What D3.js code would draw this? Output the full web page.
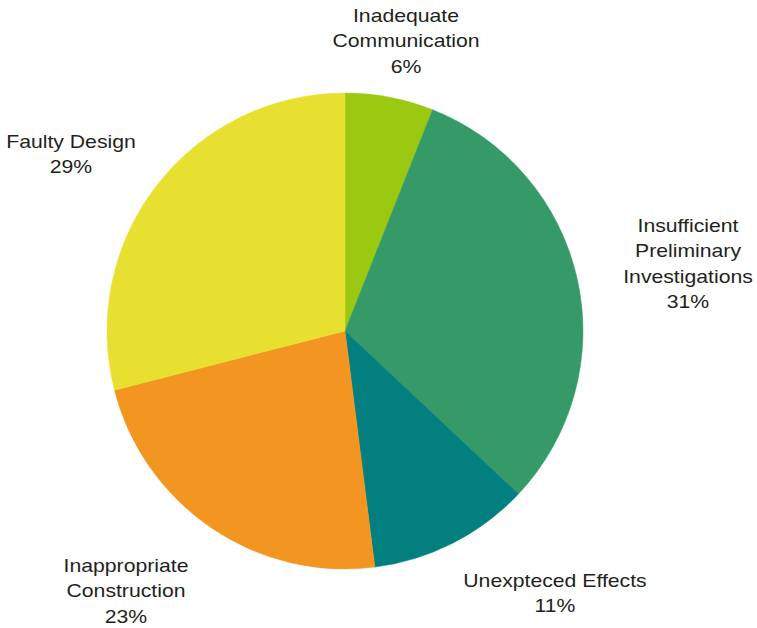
<!DOCTYPE html>
<html>
<head>
<meta charset="utf-8">
<script src="https://cdn.jsdelivr.net/npm/d3@7"></script>
<style>
  html, body { margin: 0; padding: 0; background: #fff; }
  svg { display: block; }
  text { font-family: "Liberation Sans", Arial, sans-serif; fill: #231f20; }
</style>
</head>
<body>
<svg id="chart" width="757" height="628"></svg>
<script>
// Causes, in clockwise order starting at 12 o'clock
const categories = [
  "Inadequate Communication",
  "Insufficient Preliminary Investigations",
  "Unexpteced Effects",
  "Inappropriate Construction",
  "Faulty Design"
];
const shares = [6, 31, 11, 23, 29];
const labelLines = [
  ["Inadequate", "Communication"],
  ["Insufficient", "Preliminary", "Investigations"],
  ["Unexpteced Effects"],
  ["Inappropriate", "Construction"],
  ["Faulty Design"]
];
const colors = ["#9bc912", "#359a68", "#037f7f", "#f39621", "#e8e030"];

// Label anchor (center x, first baseline y) for each slice
const labelAnchors = [
  [406, 22],
  [688, 232],
  [555, 587],
  [126, 572],
  [71, 148]
];

const svg = d3.select("#chart");
const cx = 345, cy = 331, radius = 238;

const data = categories.map((c, i) => ({ name: c, value: shares[i], i }));

const pie = d3.pie()
  .value(d => d.value)
  .sort(null)
  .startAngle(0)
  .endAngle(2 * Math.PI);

const arc = d3.arc().innerRadius(0).outerRadius(radius);

const color = d3.scaleOrdinal().domain(categories).range(colors);

const g = svg.append("g").attr("transform", `translate(${cx},${cy})`);

g.selectAll("path")
  .data(pie(data))
  .join("path")
  .attr("d", arc)
  .attr("fill", d => color(d.data.name))
  .attr("stroke", d => color(d.data.name))
  .attr("stroke-width", 0.5);

const fmt = d3.format(".0f");
const lineH = 25.3;

const labels = svg.selectAll("g.label")
  .data(data)
  .join("g")
  .attr("class", "label")
  .attr("transform", d => `translate(${labelAnchors[d.i][0]},${labelAnchors[d.i][1]}) scale(1.14,1)`);

labels.each(function(d) {
  const lines = labelLines[d.i].concat([fmt(d.value) + "%"]);
  const t = d3.select(this).append("text")
    .attr("text-anchor", "middle")
    .attr("font-size", 18.6);
  lines.forEach((ln, k) => {
    t.append("tspan").attr("x", 0).attr("y", k * lineH).text(ln);
  });
});
</script>
</body>
</html>
